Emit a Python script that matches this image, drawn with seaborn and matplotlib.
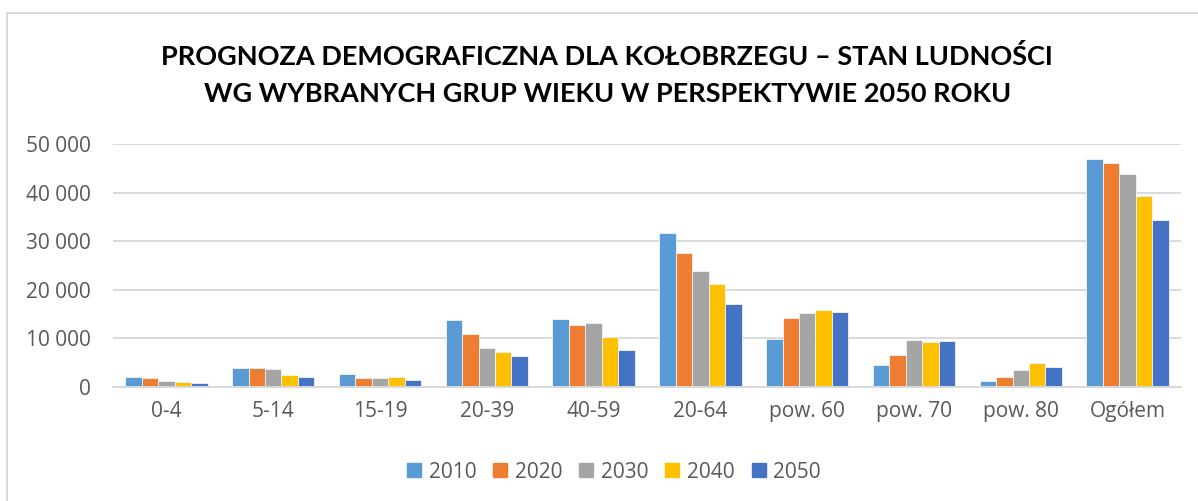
import pandas as pd
import seaborn as sns
import matplotlib.pyplot as plt
from matplotlib.ticker import FuncFormatter
from matplotlib.lines import Line2D

# grupy wieku i lata prognozy
groups = ["0-4", "5-14", "15-19", "20-39", "40-59", "20-64",
          "pow. 60", "pow. 70", "pow. 80", "Ogółem"]
years = ["2010", "2020", "2030", "2040", "2050"]

v2010 = [2060, 3900, 2600, 13800, 14050, 31600, 9950, 4550, 1300, 47000]
v2020 = [1850, 3870, 1930, 10850, 12800, 27600, 14250, 6600, 2060, 46150]
v2030 = [1170, 3770, 1850, 7950, 13250, 23950, 15150, 9750, 3500, 43800]
v2040 = [1030, 2470, 2000, 7150, 10300, 21200, 15800, 9300, 4870, 39350]
v2050 = [820, 2060, 1370, 6450, 7600, 17000, 15350, 9450, 4120, 34300]

colors = ["#5B9BD5", "#ED7D31", "#A5A5A5", "#FFC000", "#4472C4"]

rows = []
for y, vals in zip(years, [v2010, v2020, v2030, v2040, v2050]):
    for g, v in zip(groups, vals):
        rows.append({"grupa": g, "rok": y, "ludnosc": v})
df = pd.DataFrame(rows)

sns.set_style("white")
plt.rcParams['font.family'] = ['Open Sans', 'DejaVu Sans']

fig = plt.figure(figsize=(11.98, 5.01), dpi=100)
ax = fig.add_axes([113 / 1198, 1 - 387 / 501, (1181 - 113) / 1198, (387 - 144) / 501])

sns.barplot(data=df, x="grupa", y="ludnosc", hue="rok", order=groups,
            hue_order=years, palette=colors, saturation=1, width=0.77, ax=ax,
            edgecolor="#f4f4f4", linewidth=0.6, legend=False)

ax.set_ylim(0, 50000)
ax.set_xlim(-0.5, len(groups) - 0.5)
ax.set_yticks(range(0, 50001, 10000))
ax.yaxis.set_major_formatter(FuncFormatter(lambda v, p: f"{int(v):,}".replace(",", " ")))
ax.grid(axis="y", color="#d9d9d9", linewidth=1.4)
ax.set_axisbelow(True)
for s in ["top", "right", "left"]:
    ax.spines[s].set_visible(False)
ax.spines["bottom"].set_color("#d9d9d9")
ax.spines["bottom"].set_linewidth(1.4)
ax.tick_params(axis="both", length=0, labelsize=15, colors="#595959")
ax.tick_params(axis="x", pad=10)
ax.tick_params(axis="y", pad=16)
ax.set_xlabel("")
ax.set_ylabel("")

fig.text(0.507, 1 - 65 / 501, "PROGNOZA DEMOGRAFICZNA DLA KOŁOBRZEGU – STAN LUDNOŚCI",
         ha="center", va="baseline", fontsize=19.5, fontweight="bold", color="black",
         family=["Lato", "DejaVu Sans"])
fig.text(0.507, 1 - 102 / 501, "WG WYBRANYCH GRUP WIEKU W PERSPEKTYWIE 2050 ROKU",
         ha="center", va="baseline", fontsize=19.5, fontweight="bold", color="black",
         family=["Lato", "DejaVu Sans"])

handles = [Line2D([], [], marker="s", linestyle="", markersize=10.5,
                  markerfacecolor=c, markeredgecolor=c) for c in colors]
fig.legend(handles, years, loc="center", bbox_to_anchor=(0.512, 1 - 472 / 501),
           ncol=5, frameon=False, fontsize=15, labelcolor="#595959",
           handletextpad=0.3, columnspacing=0.75, handlelength=0.8)

# ramka wykresu (widoczna tylko góra i lewa strona)
fig.add_artist(Line2D([6.5 / 1198, 1.0], [1 - 13 / 501, 1 - 13 / 501],
                      transform=fig.transFigure, color="#d9d9d9", linewidth=1.4))
fig.add_artist(Line2D([6.5 / 1198, 6.5 / 1198], [0, 1 - 13 / 501],
                      transform=fig.transFigure, color="#d9d9d9", linewidth=1.4))

fig.savefig("out.png", dpi=100)
